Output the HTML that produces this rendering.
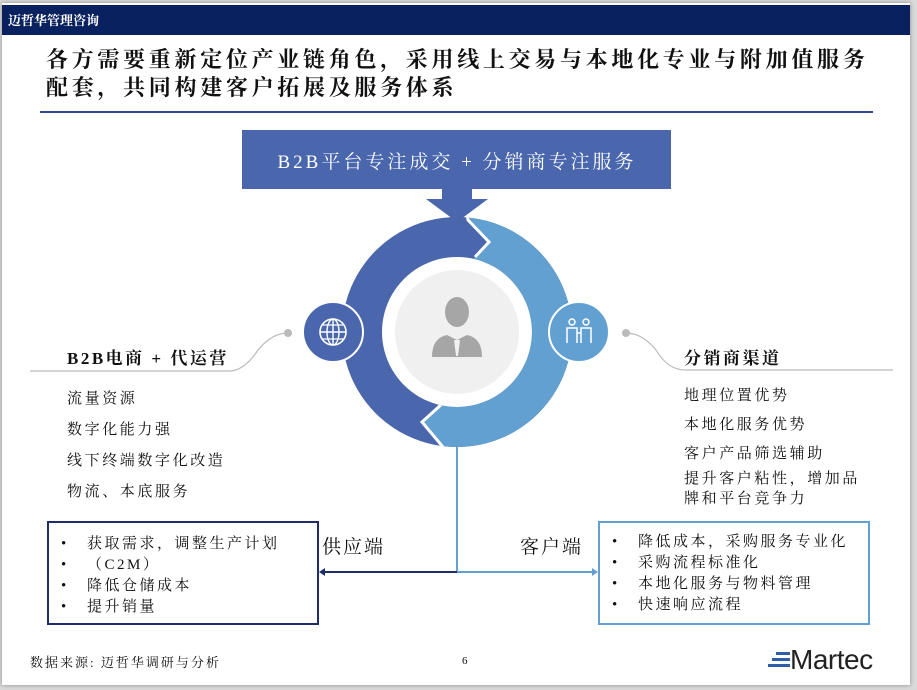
<!DOCTYPE html>
<html><head><meta charset="utf-8"><style>
*{margin:0;padding:0;box-sizing:border-box}
body{width:917px;height:690px;background:#d9d9d9;position:relative;overflow:hidden;font-family:"Liberation Serif","Noto Serif CJK SC",serif;color:#111}
.slide{position:absolute;left:2px;top:3px;width:908px;height:682px;background:#fff;box-shadow:0 0 4px #888}
.t{position:absolute;white-space:nowrap}
.hdr{position:absolute;left:2px;top:5px;width:908px;height:30px;background:#0a2160}
ul{list-style:none}
.box{position:absolute;background:#fff}
.box li{position:relative;padding-left:38px;font-size:15px;line-height:21px;letter-spacing:2.5px}
.box li:before{content:"•";position:absolute;left:12px}
</style></head><body>
<div class="slide"></div>
<div class="hdr"></div>
<div class="t" style="left:8px;top:10px;color:#fff;font-size:13px;font-weight:bold">迈哲华管理咨询</div>
<div class="t" style="left:46px;top:46px;font-size:22px;font-weight:bold;line-height:28px;letter-spacing:3.7px">各方需要重新定位产业链角色，采用线上交易与本地化专业与附加值服务<br>配套，共同构建客户拓展及服务体系</div>
<div style="position:absolute;left:40px;top:111px;width:833px;height:2px;background:#2f4a8c"></div>

<svg width="917" height="690" style="position:absolute;left:0;top:0">
<defs>
<clipPath id="ring"><path clip-rule="evenodd" d="M457,217a115,115 0 1,0 0.01,0Z M457,257a75,75 0 1,1 -0.01,0Z"/></clipPath>
</defs>
<rect x="242" y="130" width="429" height="59" fill="#4a67ad"/>
<rect x="442" y="189" width="30" height="12" fill="#4a67ad"/>
<polygon points="426,199 488,199 457,222" fill="#4a67ad"/>
<g clip-path="url(#ring)">
<rect x="330" y="210" width="260" height="250" fill="#4a67ad"/>
<polygon points="466,205 468,220 489,242 475,257 460,275 440,390 443,403 422,422 443,447 443,470 600,470 600,205" fill="#62a0d2"/>
<polyline points="466,205 468,220 489,242 475,257" fill="none" stroke="#fff" stroke-width="3"/>
<polyline points="443,403 422,422 443,447 443,470" fill="none" stroke="#fff" stroke-width="3"/>
</g>
<circle cx="457" cy="332" r="62" fill="#f0f0f0"/>
<ellipse cx="457" cy="312" rx="12" ry="15" fill="#a6a6a6"/>
<path d="M432,357 Q432,338 447,335 L457,340 L467,335 Q482,338 482,357 Z" fill="#a6a6a6"/>
<path d="M454,340 L460,340 L458,356 L456,356Z" fill="#f0f0f0"/>
<circle cx="333" cy="332" r="30" fill="#4a67ad" stroke="#fff" stroke-width="2"/>
<circle cx="333" cy="332" r="13" fill="none" stroke="#fff" stroke-width="1.6"/>
<ellipse cx="333" cy="332" rx="6" ry="13" fill="none" stroke="#fff" stroke-width="1.4"/>
<line x1="320" y1="332" x2="346" y2="332" stroke="#fff" stroke-width="1.4"/>
<line x1="322" y1="325" x2="344" y2="325" stroke="#fff" stroke-width="1.2"/>
<line x1="322" y1="339" x2="344" y2="339" stroke="#fff" stroke-width="1.2"/>
<line x1="333" y1="319" x2="333" y2="345" stroke="#fff" stroke-width="1.4"/>
<circle cx="579" cy="332" r="30" fill="#62a0d2" stroke="#fff" stroke-width="2"/>
<g fill="none" stroke="#fff" stroke-width="1.5">
<circle cx="572" cy="322" r="3"/><circle cx="586" cy="322" r="3"/>
<path d="M567,343 V328 H577 V343 M581,343 V328 H591 V343 M577,333 L581,333"/>
</g>
<circle cx="288" cy="333" r="4" fill="#bbb"/>
<path d="M288,333 Q272,333 258,350 Q245,370 230,371 L30,371" fill="none" stroke="#bbb" stroke-width="1.2"/>
<circle cx="626" cy="333" r="4" fill="#bbb"/>
<path d="M626,333 Q642,333 656,350 Q668,370 685,370 L893,370" fill="none" stroke="#bbb" stroke-width="1.2"/>
<line x1="457" y1="447" x2="457" y2="572" stroke="#62a0d2" stroke-width="2"/>
<line x1="457" y1="572" x2="322" y2="572" stroke="#1f2d6b" stroke-width="2"/>
<polygon points="319,572 325,568 325,576" fill="#1f2d6b"/>
<line x1="457" y1="572" x2="594" y2="572" stroke="#62a0d2" stroke-width="2"/>
<polygon points="598,572 592,568 592,576" fill="#62a0d2"/>
<g fill="#2f5ea8"><rect x="776" y="652" width="14" height="3"/><rect x="772" y="658" width="18" height="3"/><rect x="768" y="664" width="22" height="3"/></g>
</svg>

<div class="t" style="left:243px;top:147px;width:428px;text-align:center;color:#fff;font-size:19px;letter-spacing:3px">B2B平台专注成交 + 分销商专注服务</div>

<div class="t" style="left:67px;top:344px;font-size:17px;font-weight:bold;letter-spacing:2.5px">B2B电商 + 代运营</div>
<div class="t" style="left:67px;top:384px;font-size:15px;line-height:31px;letter-spacing:2.6px">流量资源<br>数字化能力强<br>线下终端数字化改造<br>物流、本底服务</div>

<div class="t" style="left:684px;top:344px;font-size:17px;font-weight:bold;letter-spacing:2.5px">分销商渠道</div>
<div class="t" style="left:684px;top:382px;font-size:15px;line-height:29px;letter-spacing:2.6px">地理位置优势<br>本地化服务优势<br>客户产品筛选辅助</div>
<div class="t" style="left:684px;top:469px;font-size:15px;line-height:20px;letter-spacing:2.6px">提升客户粘性，增加品<br>牌和平台竞争力</div>

<div class="box" style="left:47px;top:521px;width:272px;height:104px;border:2px solid #1f2d6b;padding-top:11px">
<ul><li>获取需求，调整生产计划</li><li>（C2M）</li><li>降低仓储成本</li><li>提升销量</li></ul></div>
<div class="box" style="left:598px;top:521px;width:272px;height:104px;border:2px solid #62a0d2;padding-top:9px">
<ul><li>降低成本，采购服务专业化</li><li>采购流程标准化</li><li>本地化服务与物料管理</li><li>快速响应流程</li></ul></div>

<div class="t" style="left:322px;top:532px;font-size:19px;letter-spacing:2px">供应端</div>
<div class="t" style="left:520px;top:532px;font-size:19px;letter-spacing:2px">客户端</div>

<div class="t" style="left:30px;top:652px;font-size:13px;letter-spacing:2px">数据来源: 迈哲华调研与分析</div>
<div class="t" style="left:462px;top:655px;font-size:11px">6</div>
<div class="t" style="left:790px;top:644px;font-size:28px;font-family:'Liberation Sans',sans-serif;color:#222;letter-spacing:-0.5px">Martec</div>
</body></html>
